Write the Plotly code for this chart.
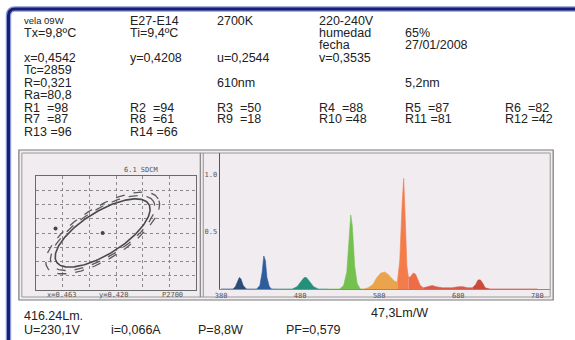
import numpy as np
import plotly.graph_objects as go

W, H = 575, 340

# ---------------- data ----------------
header_rows = [
    ["vela 09W", "E27-E14", "2700K", "220-240V", "", ""],
    ["Tx=9,8ºC", "Ti=9,4ºC", "", "humedad", "65%", ""],
    ["", "", "", "fecha", "27/01/2008", ""],
    ["x=0,4542", "y=0,4208", "u=0,2544", "v=0,3535", "", ""],
    ["Tc=2859", "", "", "", "", ""],
    ["R=0,321", "", "610nm", "", "5,2nm", ""],
    ["Ra=80,8", "", "", "", "", ""],
]
cri_labels = ["R1", "R2", "R3", "R4", "R5", "R6", "R7", "R8", "R9", "R10",
              "R11", "R12", "R13", "R14"]
cri_values = [98, 94, 50, 88, 87, 82, 87, 61, 18, 48, 81, 42, 96, 66]

footer_rows = [
    ["416.24Lm.", "", "", "", "47,3Lm/W"],
    ["U=230,1V", "i=0,066A", "P=8,8W", "PF=0,579", ""],
]

# spectrum (wavelength nm, relative intensity)
spectrum_wl = [380, 395, 398, 401, 403, 405, 408, 412, 415,
               425, 429, 432, 434, 436, 438, 441, 444, 450,
               470, 476, 481, 485, 488, 492, 497, 503, 515,
               530, 535, 539, 542, 544, 546, 549, 552, 556, 560,
               566, 572, 577, 582, 587, 591, 595, 599, 603,
               606, 609, 611, 613, 615, 617,
               620, 623, 626, 629, 632, 636,
               642, 647, 652, 660, 672, 680, 686, 692, 698,
               702, 705, 708, 711, 714, 720, 780]
spectrum_val = [0, 0, 0.02, 0.07, 0.10, 0.09, 0.03, 0, 0,
                0, 0.03, 0.15, 0.29, 0.25, 0.10, 0.02, 0, 0,
                0, 0.02, 0.06, 0.10, 0.10, 0.06, 0.02, 0, 0,
                0, 0.03, 0.15, 0.45, 0.65, 0.55, 0.20, 0.05, 0, 0,
                0.01, 0.04, 0.10, 0.14, 0.15, 0.13, 0.10, 0.07, 0.06,
                0.25, 0.75, 0.97, 0.60, 0.20, 0.10,
                0.11, 0.14, 0.13, 0.08, 0.03, 0.01,
                0.02, 0.03, 0.02, 0.01, 0.01, 0.02, 0.02, 0.01, 0.01,
                0.04, 0.08, 0.08, 0.05, 0.01, 0, 0]
band_limits = [380, 415, 450, 515, 560, 603, 617, 636, 698, 780]
band_colors = ["#2d4b78", "#2e5d9c", "#24907a", "#74c150", "#eaa54c",
               "#f47c4a", "#ee6c48", "#d95a4a", "#cc4a3a"]
spec_xticks = [380, 480, 580, 680, 780]
spec_yticks = [0.5, 1.0]

# chromaticity panel
ellipse_center = (0.463, 0.420)
ellipse_axes = (0.0100, 0.0038)   # semi-major, semi-minor
ellipse_angle_deg = 30
ellipse_scales = [1.0, 1.10, 1.20]
measured_xy = (0.4542, 0.4208)
chroma_labels = ["x=0.463", "y=0.420", "P2700"]
chroma_title = "6.1 SDCM"


# ---------------- helpers ----------------
def X(px):
    return px / W


def Y(py):
    return 1 - py / H


fig = go.Figure()

# spectrum bands
wl = np.array(spectrum_wl, dtype=float)
sv = np.array(spectrum_val, dtype=float)
for i, col in enumerate(band_colors):
    lo, hi = band_limits[i], band_limits[i + 1]
    m = (wl >= lo) & (wl <= hi)
    fig.add_trace(go.Scatter(x=wl[m], y=sv[m], mode="lines", fill="tozeroy",
                             fillcolor=col, line=dict(color=col, width=0.6),
                             xaxis="x2", yaxis="y2", hoverinfo="skip",
                             showlegend=False))

# ellipses
t = np.linspace(0, 2 * np.pi, 200)
th = np.deg2rad(ellipse_angle_deg)
for k, s in enumerate(ellipse_scales):
    a, b = ellipse_axes[0] * s, ellipse_axes[1] * s
    ex = ellipse_center[0] + a * np.cos(t) * np.cos(th) - b * np.sin(t) * np.sin(th)
    ey = ellipse_center[1] + a * np.cos(t) * np.sin(th) + b * np.sin(t) * np.cos(th)
    fig.add_trace(go.Scatter(x=ex, y=ey, mode="lines",
                             line=dict(color="#4a4a4a" if k == 0 else "#5a5a5a",
                                       width=1.6 if k == 0 else 1.3,
                                       dash="solid" if k == 0 else "dash"),
                             xaxis="x3", yaxis="y3", hoverinfo="skip",
                             showlegend=False))
fig.add_trace(go.Scatter(x=[ellipse_center[0], measured_xy[0]],
                         y=[ellipse_center[1], measured_xy[1]],
                         mode="markers", marker=dict(color="#444", size=4),
                         xaxis="x3", yaxis="y3", hoverinfo="skip",
                         showlegend=False))

# ---------------- text ----------------
ann = []
font_main = dict(family="Liberation Sans, Arial", size=12.5, color="#222")
col_x = [17, 124, 212, 315, 401, 502]
row_y = [20.5, 32.5, 45, 57.5, 70, 82.5, 95]
for r, row in enumerate(header_rows):
    for c, txt in enumerate(row):
        if not txt:
            continue
        f = dict(font_main)
        if r == 0 and c == 0:
            f["size"] = 9.5
        ann.append(dict(x=X(col_x[c]), y=Y(row_y[r]), xref="paper", yref="paper",
                        text=txt, showarrow=False, xanchor="left",
                        yanchor="middle", font=f))

cri_col_x = [17, 124, 212, 315, 401, 502]
cri_row_y = [107.5, 119.5, 131.5]
for i, (lab, val) in enumerate(zip(cri_labels, cri_values)):
    r, c = divmod(i, 6)
    sp = "\u00a0\u00a0" if len(lab) == 2 else "\u00a0"
    ann.append(dict(x=X(cri_col_x[c]), y=Y(cri_row_y[r]), xref="paper",
                    yref="paper", text=f"{lab}{sp}={val}", showarrow=False,
                    xanchor="left", yanchor="middle", font=font_main))

foot_x = [17, 105, 193, 281, 367]
foot_y = [315.5, 329.5]
for r, row in enumerate(footer_rows):
    for c, txt in enumerate(row):
        if not txt:
            continue
        yy = foot_y[r] if not (r == 0 and c == 4) else 312.5
        ann.append(dict(x=X(foot_x[c]), y=Y(yy), xref="paper", yref="paper",
                        text=txt, showarrow=False, xanchor="left",
                        yanchor="middle", font=font_main))

font_tiny = dict(family="DejaVu Sans Mono", size=7, color="#555")
ann.append(dict(x=X(137), y=Y(170), xref="paper", yref="paper",
                text=chroma_title, showarrow=False, xanchor="center",
                yanchor="middle", font=font_tiny))
for txt, px in zip(chroma_labels, [57, 110, 169]):
    ann.append(dict(x=X(px), y=Y(295), xref="paper", yref="paper", text=txt,
                    showarrow=False, xanchor="center", yanchor="middle",
                    font=font_tiny))

# ---------------- shapes ----------------
shapes = []
shapes.append(dict(type="rect", xref="paper", yref="paper", x0=X(14), x1=X(553),
                   y0=Y(300), y1=Y(150), fillcolor="#f1ecf0",
                   line=dict(color="#7a7a7a", width=1.2), layer="below"))
shapes.append(dict(type="rect", xref="paper", yref="paper", x0=X(17), x1=X(550),
                   y0=Y(297), y1=Y(153), fillcolor="rgba(0,0,0,0)",
                   line=dict(color="#9a9a9a", width=1), layer="below"))
for xd, colr in [(197, "#7a7a7a"), (200, "#9a9a9a")]:
    shapes.append(dict(type="line", xref="paper", yref="paper", x0=X(xd), x1=X(xd),
                       y0=Y(297), y1=Y(153), line=dict(color=colr, width=1.1)))
path = (f"M {X(3.5)},{Y(340)} L {X(3.5)},{Y(16)} "
        f"Q {X(3.5)},{Y(9)} {X(10)},{Y(9)} L {X(575)},{Y(9)}")
shapes.append(dict(type="path", xref="paper", yref="paper", path=path,
                   line=dict(color="#8d9bd6", width=5.5)))
shapes.append(dict(type="path", xref="paper", yref="paper", path=path,
                   line=dict(color="#141f75", width=3)))

# ---------------- axes ----------------
spx0, spx1 = 217, 550
px_per_nm = (537 - 218) / 400
xr2 = [380 - (218 - spx0) / px_per_nm, 380 + (spx1 - 218) / px_per_nm]
y0px, y1px, px_per_unit = 289, 153, 114
yr2 = [0, (y0px - y1px) / px_per_unit]

cx0, cx1, cy0, cy1 = 31, 193, 176, 290

fig.update_layout(
    width=W, height=H, margin=dict(l=0, r=0, t=0, b=0),
    paper_bgcolor="white", plot_bgcolor="rgba(0,0,0,0)",
    showlegend=False, annotations=ann, shapes=shapes,
    xaxis=dict(visible=False),
    yaxis=dict(visible=False),
    xaxis2=dict(domain=[X(spx0), X(spx1)], range=xr2, anchor="y2",
                showgrid=False, zeroline=False, showline=True,
                linecolor="#8a8a8a", linewidth=1,
                tickvals=spec_xticks, ticktext=[str(v) for v in spec_xticks],
                ticks="", tickfont=font_tiny, ticklabelstandoff=0),
    yaxis2=dict(domain=[Y(y0px), Y(y1px)], range=yr2, anchor="x2",
                showgrid=False, zeroline=False, showline=True,
                linecolor="#555", linewidth=1.5,
                tickvals=spec_yticks, ticktext=["0.5", "1.0"], ticks="",
                tickfont=font_tiny),
    xaxis3=dict(domain=[X(cx0), X(cx1)], range=[0.4505, 0.4805], anchor="y3",
                showgrid=True, gridcolor="#8a8a8a", griddash="dot", gridwidth=1,
                tick0=0.4505, dtick=0.005, showticklabels=False, ticks="",
                zeroline=False, showline=True, mirror=True,
                linecolor="#6a6a6a", linewidth=1),
    yaxis3=dict(domain=[Y(cy1), Y(cy0)], range=[0.410, 0.430], anchor="x3",
                showgrid=True, gridcolor="#8a8a8a", griddash="dot", gridwidth=1,
                tick0=0.410, dtick=0.0025, showticklabels=False, ticks="",
                zeroline=False, showline=True, mirror=True,
                linecolor="#6a6a6a", linewidth=1),
)

fig.write_html(
    "out.html",
    config={"displayModeBar": False, "staticPlot": True},
    post_script=("document.body.style.margin='0';"
                 "document.body.style.padding='0';"
                 "document.body.style.overflow='hidden';"),
)
